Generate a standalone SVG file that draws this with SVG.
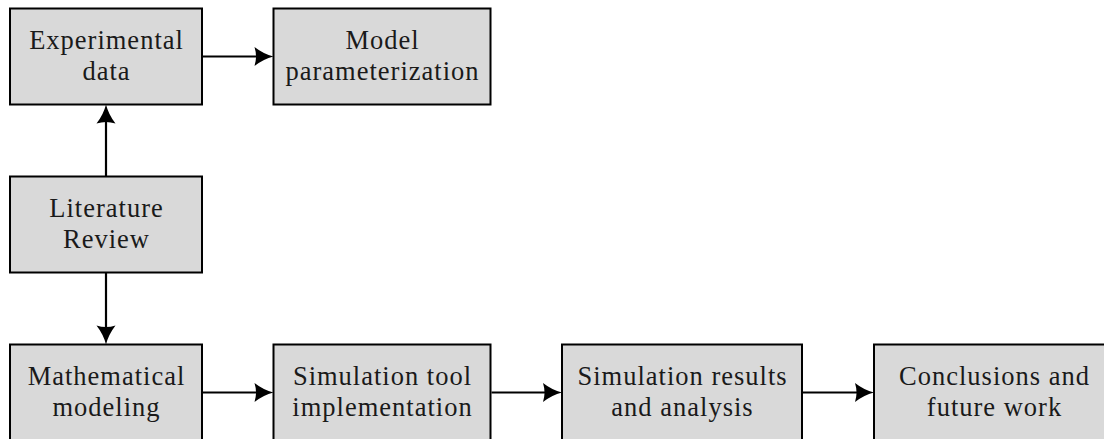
<svg xmlns="http://www.w3.org/2000/svg" width="1104" height="439" viewBox="0 0 1104 439">
  <style>
    .box { fill: #d9d9d9; stroke: #000; stroke-width: 2; }
    .lbl { font-family: "Liberation Serif", "Times New Roman", serif; font-size: 26.5px; letter-spacing: 1px; fill: #1a1a1a; text-anchor: middle; }
    .conn { stroke: #000; stroke-width: 2.2; fill: none; marker-end: url(#arrow); }
  </style>
  <defs>
    <marker id="arrow" markerUnits="userSpaceOnUse" markerWidth="20" markerHeight="20" viewBox="0 0 19 20" refX="8" refY="10" orient="auto">
      <path d="M0,0.5 Q9,7.5 19,10 Q9,12.5 0,19.5 Q3,10 0,0.5 Z" fill="#000"/>
    </marker>
  </defs>
  <rect width="1104" height="439" fill="#fff"/>
  <g id="connectors">
    <line class="conn" x1="203" y1="56.5" x2="262.5" y2="56.5"/>
    <line class="conn" x1="106" y1="176.5" x2="106" y2="115.5"/>
    <line class="conn" x1="106" y1="272.5" x2="106" y2="333.5"/>
    <line class="conn" x1="203" y1="392.5" x2="262.5" y2="392.5"/>
    <line class="conn" x1="491.5" y1="392.5" x2="551" y2="392.5"/>
    <line class="conn" x1="803" y1="392.5" x2="863" y2="392.5"/>
  </g>
  <g id="experimental-data">
    <rect class="box" x="10" y="8.5" width="192" height="96"/>
    <text class="lbl" x="106.5" y="49">Experimental</text>
    <text class="lbl" x="106.5" y="80">data</text>
  </g>
  <g id="model-parameterization">
    <rect class="box" x="273.5" y="8.5" width="217" height="96"/>
    <text class="lbl" x="382.5" y="49">Model</text>
    <text class="lbl" x="382.5" y="80">parameterization</text>
  </g>
  <g id="literature-review">
    <rect class="box" x="10" y="176.5" width="192" height="96"/>
    <text class="lbl" x="106.5" y="217">Literature</text>
    <text class="lbl" x="106.5" y="248">Review</text>
  </g>
  <g id="mathematical-modeling">
    <rect class="box" x="10" y="344.5" width="192" height="96"/>
    <text class="lbl" x="106.5" y="385">Mathematical</text>
    <text class="lbl" x="106.5" y="416">modeling</text>
  </g>
  <g id="simulation-tool">
    <rect class="box" x="273.5" y="344.5" width="217" height="96"/>
    <text class="lbl" x="382.5" y="385">Simulation tool</text>
    <text class="lbl" x="382.5" y="416">implementation</text>
  </g>
  <g id="simulation-results">
    <rect class="box" x="562" y="344.5" width="240" height="96"/>
    <text class="lbl" x="682.5" y="385">Simulation results</text>
    <text class="lbl" x="682.5" y="416">and analysis</text>
  </g>
  <g id="conclusions">
    <rect class="box" x="874" y="344.5" width="240" height="96"/>
    <text class="lbl" x="994.5" y="385">Conclusions and</text>
    <text class="lbl" x="994.5" y="416">future work</text>
  </g>
</svg>
